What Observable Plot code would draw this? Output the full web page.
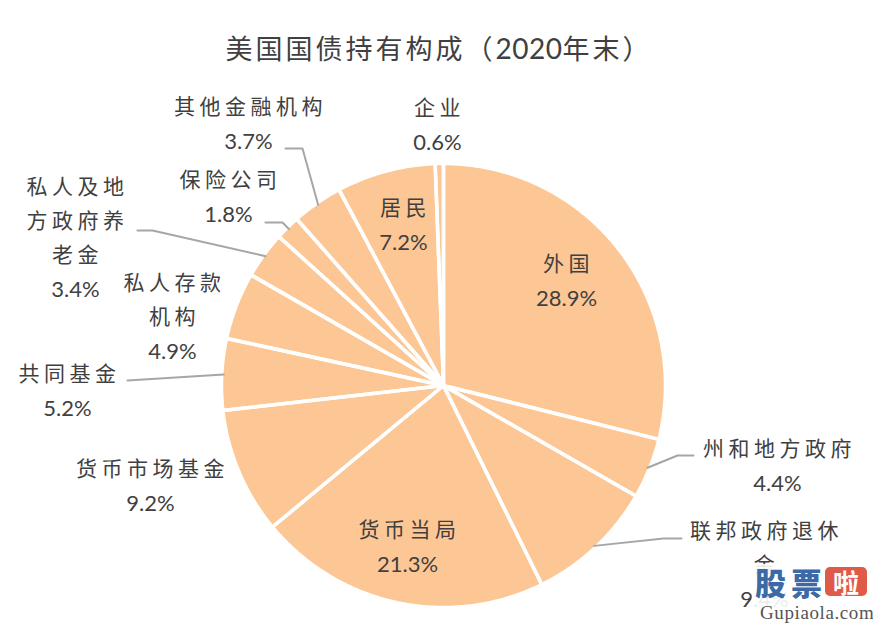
<!DOCTYPE html>
<html>
<head>
<meta charset="utf-8">
<script src="https://cdn.jsdelivr.net/npm/d3@7"></script>
<script src="https://cdn.jsdelivr.net/npm/@observablehq/plot@0.6"></script>
<style>
  html, body { margin: 0; padding: 0; background: #fff; }
  #wrap { position: relative; width: 873px; height: 623px; overflow: hidden; }
  #chart { position: absolute; left: 0; top: 0; }
  #title { position: absolute; left: 6px; width: 866px; top: 29px; text-align: center;
    font-family: "Noto Sans CJK SC", sans-serif; font-size: 27px; letter-spacing: 3px; color: #404040; line-height: 38px; }
  #title .num { font-family: Lato, sans-serif; font-size: 28px; letter-spacing: 0.5px; }
  #wm { position: absolute; left: 753px; top: 564px; width: 120px; height: 59px; background: rgba(255,255,255,0.9); }
  #wm .blue { position: absolute; top: 0px; font-family: "Noto Sans CJK SC", sans-serif; font-weight: 900; font-size: 31px; line-height: 36px; color: #3b6aa6; }
  #wm .red { position: absolute; left: 72px; top: 3px; width: 42px; height: 29px; background: #e05a48; border-radius: 5px;
    color: #fff; font-family: "Noto Sans CJK SC", sans-serif; font-weight: 700; font-size: 26px; line-height: 29px; text-align: center; }
  #wm .url { position: absolute; left: 7px; top: 39px; font-family: "Liberation Serif", serif; font-size: 19px; line-height: 20px; color: #555; letter-spacing: 0.6px; }
</style>
</head>
<body>
<div id="wrap">
  <div id="chart"></div>
  <div id="title">美国国债持有构成（<span class="num">2020</span>年末）</div>
  <div id="wm"><span class="blue" style="left:2px">股</span><span class="blue" style="left:38px">票</span><div class="red">啦</div><div class="url">Gupiaola.com</div></div>
</div>
<script>
// ---- data ----
const categories = ["外国","州和地方政府","联邦政府退休金","货币当局","货币市场基金","共同基金","私人存款机构","私人及地方政府养老金","保险公司","其他金融机构","居民","企业"];
const shares = [28.9, 4.4, 9.4, 21.3, 9.2, 5.2, 4.9, 3.4, 1.8, 3.7, 7.2, 0.6];
const valueLabels = ["28.9%","4.4%","9.4%","21.3%","9.2%","5.2%","4.9%","3.4%","1.8%","3.7%","7.2%","0.6%"];
const nameLines = [["外国"],["州和地方政府"],["联邦政府退休","金"],["货币当局"],["货币市场基金"],["共同基金"],["私人存款","机构"],["私人及地","方政府养","老金"],["保险公司"],["其他金融机构"],["居民"],["企业"]];

// ---- layout (pixels) ----
const pie = {cx: 443, cy: 385, r: 222};
const labelPos = {
  "外国": [566, 264], "州和地方政府": [777, 449], "联邦政府退休金": [764, 531], "货币当局": [407, 530],
  "货币市场基金": [150, 469], "共同基金": [67, 374], "私人存款机构": [172, 283], "私人及地方政府养老金": [75, 187],
  "保险公司": [228, 180], "其他金融机构": [248, 107], "居民": [403, 208], "企业": [437, 108]
};
const lineStep = 34;
const leaderBends = {
  "州和地方政府": [[677, 455], [693, 455]],
  "联邦政府退休金": [[663, 538], [681, 538]],
  "共同基金": [[127, 380]],
  "私人及地方政府养老金": [[152, 230], [137, 230]],
  "保险公司": [[282, 222], [265, 222]],
  "其他金融机构": [[302, 148], [285, 148]]
};

// ---- geometry ----
const arcs = d3.pie().sort(null).value(d => d)(shares);
const pt = (a, rr) => [pie.cx + rr * Math.sin(a), pie.cy - rr * Math.cos(a)];
const slicePts = [];
arcs.forEach((a, i) => {
  const id = categories[i];
  slicePts.push({id, x: pie.cx, y: pie.cy});
  const n = Math.max(2, Math.ceil((a.endAngle - a.startAngle) / (Math.PI / 360)));
  for (let k = 0; k <= n; k++) {
    const t = a.startAngle + (a.endAngle - a.startAngle) * k / n;
    const [x, y] = pt(t, pie.r);
    slicePts.push({id, x, y});
  }
  slicePts.push({id, x: pie.cx, y: pie.cy});
});

const leaderPts = [];
arcs.forEach((a, i) => {
  const id = categories[i];
  if (!leaderBends[id]) return;
  const mid = (a.startAngle + a.endAngle) / 2;
  const [x0, y0] = pt(mid, pie.r - 2);
  leaderPts.push({id, x: x0, y: y0});
  leaderBends[id].forEach(([x, y]) => leaderPts.push({id, x, y}));
});

const nameRows = [], valueRows = [];
categories.forEach((c, i) => {
  const [x, y] = labelPos[c];
  nameLines[i].forEach((t, j) => nameRows.push({t, x, y: y + j * lineStep}));
  valueRows.push({t: valueLabels[i], x, y: y + nameLines[i].length * lineStep});
});

const chart = Plot.plot({
  width: 873, height: 623, margin: 0,
  x: {type: "identity", axis: null},
  y: {type: "identity", axis: null},
  style: {background: "transparent"},
  marks: [
    Plot.line(slicePts, {x: "x", y: "y", z: "id", fill: "#FDC795", stroke: "#FDC795", strokeWidth: 0.5, curve: "linear"}),
    Plot.line(slicePts, {x: "x", y: "y", z: "id", fill: "none", stroke: "#ffffff", strokeWidth: 3.5, strokeLinejoin: "miter", strokeMiterlimit: 1, curve: "linear"}),
    Plot.line(leaderPts, {x: "x", y: "y", z: "id", stroke: "#a6a6a6", strokeWidth: 2, curve: "linear"}),
    Plot.text(nameRows, {x: "x", y: "y", text: "t", dx: 2, fill: "#404040", fontSize: 21, fontFamily: "'Noto Sans CJK SC', sans-serif", textAnchor: "middle", lineAnchor: "middle"}),
    Plot.text(valueRows, {x: "x", y: "y", text: "t", fill: "#404040", fontSize: 22, fontFamily: "Lato, sans-serif", textAnchor: "middle", lineAnchor: "middle"})
  ]
});
// letter spacing for the category names
chart.querySelectorAll("g[aria-label='text']")[0]?.setAttribute("letter-spacing", "4.5px");
document.getElementById("chart").appendChild(chart);
</script>
</body>
</html>
